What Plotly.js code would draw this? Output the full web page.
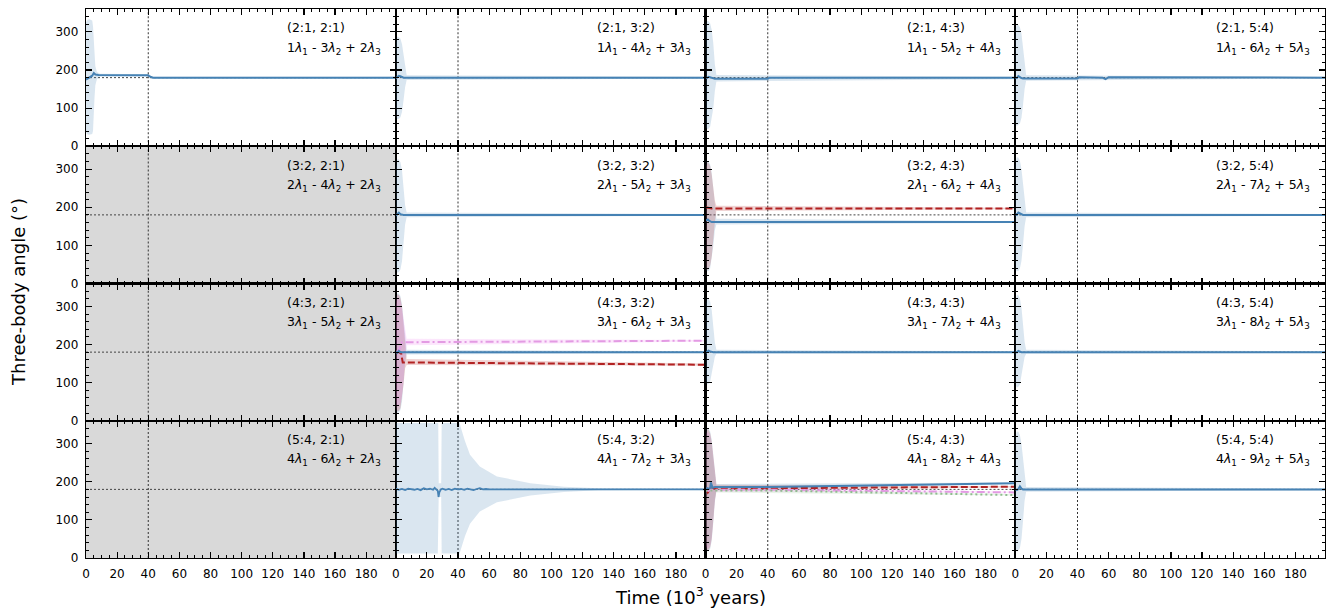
<!DOCTYPE html>
<html><head><meta charset="utf-8">
<script src="https://cdn.plot.ly/plotly-3.0.1.min.js"></script>
<style>html,body{margin:0;padding:0;background:#fff}</style></head>
<body><div id="chart" style="width:1328px;height:611px"></div>
<script>
// ---------- labels ----------
const rowRatios = ['2:1', '3:2', '4:3', '5:4'];
const colRatios = ['2:1', '3:2', '4:3', '5:4'];
const lam1Coef = [1, 2, 3, 4];
const lam2Coef = [[3, 4, 5, 6], [4, 5, 6, 7], [5, 6, 7, 8], [6, 7, 8, 9]];
const lam3Coef = [2, 3, 4, 5];
const grayPanels = [[1, 0], [2, 0], [3, 0]];
const xTickVals = [0, 20, 40, 60, 80, 100, 120, 140, 160, 180];
const yTickVals = [0, 100, 200, 300];
const refAngle = 180;
const refTime = 40;
const xTitle = 'Time (10<sup>3</sup> years)';
const yTitle = 'Three-body angle (°)';

// ---------- common band time grid ----------
const bandT = [0, 0.5, 1, 2, 3, 4, 5, 6, 7, 199];

// ---------- panel (2:1, 2:1) ----------
const p11_t = [0, 1, 2, 3, 4, 5, 6, 8, 40, 41, 43, 199];
const p11_y = [175, 177, 179, 181, 185, 192, 188, 187, 186, 183, 180, 180];
const p11_bt = [0, 0.5, 1, 2, 3, 4, 4.5, 5, 5.5, 6, 7, 9, 40, 41, 43, 199];
const p11_hi = [325, 331, 332, 333, 332, 330, 315, 280, 240, 210, 195, 190, 189, 185, 182, 182];
const p11_lo = [40, 33, 31, 30, 30, 32, 40, 80, 130, 160, 176, 182, 183, 178, 178, 178];
// ---------- panel (2:1, 3:2) ----------
const p12_t = [0, 1, 2, 3, 4, 5, 199];
const p12_y = [178, 181, 185, 184, 181, 180, 180];
const p12_hi = [270, 284, 287, 286, 282, 268, 240, 205, 186, 182];
const p12_lo = [90, 74, 71, 72, 76, 90, 120, 155, 174, 178];
// ---------- panel (2:1, 4:3) ----------
const p13_t = [0, 1, 2, 3, 4, 6, 40, 41, 199];
const p13_y = [180, 179, 182, 181, 178, 177, 177, 180, 180];
const p13_hi = [310, 325, 329, 328, 322, 305, 270, 215, 187, 182];
const p13_lo = [60, 48, 45, 46, 52, 70, 100, 145, 170, 176];
// ---------- panel (2:1, 5:4) ----------
const p14_t = [0, 1, 2, 3, 4, 5, 40, 41, 56, 58, 60, 199];
const p14_y = [180, 179, 184, 181, 179, 178, 178, 181, 180, 176, 181, 180];
const p14_hi = [305, 318, 320, 318, 312, 295, 258, 210, 186, 182];
const p14_lo = [70, 56, 53, 55, 60, 75, 108, 150, 172, 178];
// ---------- panel (3:2, 3:2) ----------
const p22_t = [0, 1, 2, 3, 4, 5, 199];
const p22_y = [178, 183, 186, 182, 180, 180, 180];
const p22_hi = [300, 320, 326, 325, 318, 298, 255, 205, 186, 182];
const p22_lo = [55, 35, 28, 30, 37, 58, 100, 155, 174, 178];
// ---------- panel (3:2, 4:3) ----------
const p23_t = [0, 1.5, 2.5, 4, 199];
const p23_y = [165, 168, 164, 161, 161];
const p23_hi = [300, 318, 321, 320, 312, 290, 248, 200, 170, 163];
const p23_lo = [50, 35, 32, 33, 40, 60, 98, 140, 155, 159];
const p23r_t = [0, 2, 4, 199];
const p23r_y = [200, 198, 197, 197];
const p23r_hi = [300, 315, 318, 316, 308, 285, 248, 218, 204, 199];
const p23r_lo = [60, 40, 35, 38, 47, 70, 108, 160, 190, 195];
// ---------- panel (3:2, 5:4) ----------
const p24_t = [0, 1, 2, 3, 4, 5, 199];
const p24_y = [182, 180, 186, 184, 180, 180, 180];
const p24_hi = [310, 328, 331, 330, 322, 300, 258, 210, 186, 182];
const p24_lo = [50, 35, 32, 33, 40, 60, 102, 150, 174, 178];
// ---------- panel (4:3, 3:2) ----------
const p32_t = [0, 1, 2, 3, 4, 199];
const p32_y = [182, 178, 183, 180, 180, 180];
const p32_hi = [315, 332, 335, 334, 327, 305, 262, 210, 186, 182];
const p32_lo = [40, 24, 20, 22, 28, 50, 98, 150, 174, 178];
const p32r_t = [0, 2, 3.5, 4.5, 199];
const p32r_y = [182, 180, 176, 153, 147];
const p32r_hi = [310, 328, 332, 330, 322, 300, 258, 205, 162, 150];
const p32r_lo = [45, 28, 24, 26, 33, 55, 95, 138, 146, 144];
const p32v_t = [0, 2, 3, 4, 199];
const p32v_y = [180, 184, 195, 206, 210];
const p32v_hi = [300, 320, 325, 322, 314, 295, 265, 232, 215, 212];
const p32v_lo = [60, 40, 35, 38, 45, 65, 105, 165, 198, 208];
// ---------- panel (4:3, 4:3) ----------
const p33_t = [0, 1, 2, 3, 4, 5, 199];
const p33_y = [178, 180, 184, 182, 180, 180, 180];
const p33_hi = [300, 318, 322, 320, 312, 290, 252, 205, 186, 182];
const p33_lo = [120, 100, 95, 97, 103, 120, 145, 168, 176, 178];
// ---------- panel (4:3, 5:4) ----------
const p34_t = [0, 1, 2, 3, 4, 5, 199];
const p34_y = [180, 179, 183, 181, 180, 180, 180];
const p34_hi = [310, 328, 331, 329, 320, 297, 255, 207, 186, 182];
const p34_lo = [110, 92, 87, 89, 96, 115, 143, 167, 176, 178];
// ---------- panel (5:4, 3:2) ----------
const p42_t = [0, 2, 4, 6, 8, 10, 12, 14, 16, 18, 20, 22, 24, 25, 26, 27, 27.5, 28, 29, 30, 32, 34, 36, 38, 40, 42, 44, 46, 48, 50, 52, 54, 56, 58, 60, 199];
const p42_y = [182, 179, 181, 178, 182, 180, 179, 181, 178, 183, 180, 182, 179, 184, 181, 176, 160, 172, 180, 182, 179, 181, 178, 182, 180, 181, 179, 182, 180, 178, 181, 183, 180, 181, 180, 180];
const p42_bt = [0, 27, 27.3, 27.6, 29.2, 29.5, 41, 42, 44.5, 47.7, 54, 65, 86.5, 108, 130, 199];
const p42_hi = [354, 354, 354, 196, 196, 354, 354, 340, 306, 271, 240, 214, 196, 187, 183, 182];
const p42_lo = [12, 12, 12, 160, 160, 12, 12, 25, 58, 90, 122, 146, 164, 173, 178, 179];
// ---------- panel (5:4, 4:3) ----------
const p43_t = [0, 1, 2, 3, 3.5, 4, 4.5, 6, 40, 199];
const p43_y = [180, 183, 181, 184, 198, 190, 184, 186, 186, 196];
const p43_hi = [320, 336, 341, 340, 332, 310, 268, 220, 194, 198];
const p43_lo = [35, 20, 17, 18, 24, 45, 92, 145, 180, 194];
const p43r_t = [0, 1, 1.5, 2.5, 4, 40, 199];
const p43r_y = [184, 178, 172, 178, 183, 183, 187];
const p43r_hi = [315, 332, 338, 336, 327, 305, 262, 215, 192, 189];
const p43r_lo = [40, 24, 20, 22, 28, 50, 98, 150, 178, 185];
const p43v_t = [0, 2, 3, 5, 40, 199];
const p43v_y = [178, 176, 180, 179, 179, 172];
const p43v_hi = [305, 325, 330, 328, 320, 297, 257, 210, 186, 174];
const p43v_lo = [50, 30, 26, 28, 34, 55, 103, 153, 174, 171];
const p43g_t = [0, 2, 4, 6, 40, 199];
const p43g_y = [176, 178, 177, 177, 177, 165];
const p43g_hi = [300, 320, 325, 322, 314, 293, 252, 205, 182, 167];
const p43g_lo = [55, 35, 30, 32, 38, 60, 108, 155, 172, 164];
// ---------- panel (5:4, 5:4) ----------
const p44_t = [0, 1, 2, 3, 4, 5, 199];
const p44_y = [180, 178, 181, 188, 182, 180, 180];
const p44_hi = [315, 329, 332, 331, 322, 300, 258, 210, 186, 182];
const p44_lo = [35, 20, 17, 19, 26, 50, 98, 150, 174, 178];

// ---------- styles ----------
const BLUE = '#4682b4', RED = '#b22222', VIOLET = '#e39be3', GREEN = '#8fbc8f';
const BLUE_F = 'rgba(70,130,180,0.2)', RED_F = 'rgba(178,34,34,0.2)', VIOLET_F = 'rgba(238,130,238,0.2)', GREEN_F = 'rgba(143,188,143,0.2)';

const bands = [
  [0, 0, p11_bt, p11_hi, p11_lo, BLUE_F],
  [0, 1, bandT, p12_hi, p12_lo, BLUE_F],
  [0, 2, bandT, p13_hi, p13_lo, BLUE_F],
  [0, 3, bandT, p14_hi, p14_lo, BLUE_F],
  [1, 1, bandT, p22_hi, p22_lo, BLUE_F],
  [1, 2, bandT, p23_hi, p23_lo, BLUE_F],
  [1, 2, bandT, p23r_hi, p23r_lo, RED_F],
  [1, 3, bandT, p24_hi, p24_lo, BLUE_F],
  [2, 1, bandT, p32_hi, p32_lo, BLUE_F],
  [2, 1, bandT, p32r_hi, p32r_lo, RED_F],
  [2, 1, bandT, p32v_hi, p32v_lo, VIOLET_F],
  [2, 2, bandT, p33_hi, p33_lo, BLUE_F],
  [2, 3, bandT, p34_hi, p34_lo, BLUE_F],
  [3, 1, p42_bt, p42_hi, p42_lo, BLUE_F],
  [3, 2, bandT, p43_hi, p43_lo, BLUE_F],
  [3, 2, bandT, p43r_hi, p43r_lo, RED_F],
  [3, 2, bandT, p43v_hi, p43v_lo, VIOLET_F],
  [3, 2, bandT, p43g_hi, p43g_lo, GREEN_F],
  [3, 3, bandT, p44_hi, p44_lo, BLUE_F]
];
const lines = [
  [1, 2, p23r_t, p23r_y, RED, 2, '7px,3px'],
  [2, 1, p32r_t, p32r_y, RED, 2, '7px,3px'],
  [2, 1, p32v_t, p32v_y, VIOLET, 2, '8px,3px,2px,3px'],
  [3, 2, p43r_t, p43r_y, RED, 2, '7px,3px'],
  [3, 2, p43v_t, p43v_y, VIOLET, 2, '8px,3px,2px,3px'],
  [3, 2, p43g_t, p43g_y, GREEN, 2, '2px,3px'],
  [0, 0, p11_t, p11_y, BLUE, 2, 'solid'],
  [0, 1, p12_t, p12_y, BLUE, 2, 'solid'],
  [0, 2, p13_t, p13_y, BLUE, 2, 'solid'],
  [0, 3, p14_t, p14_y, BLUE, 2, 'solid'],
  [1, 1, p22_t, p22_y, BLUE, 2, 'solid'],
  [1, 2, p23_t, p23_y, BLUE, 2, 'solid'],
  [1, 3, p24_t, p24_y, BLUE, 2, 'solid'],
  [2, 1, p32_t, p32_y, BLUE, 2, 'solid'],
  [2, 2, p33_t, p33_y, BLUE, 2, 'solid'],
  [2, 3, p34_t, p34_y, BLUE, 2, 'solid'],
  [3, 1, p42_t, p42_y, BLUE, 1.8, 'solid'],
  [3, 2, p43_t, p43_y, BLUE, 2, 'solid'],
  [3, 3, p44_t, p44_y, BLUE, 2, 'solid']
];

const idx = (r, c) => r * 4 + c + 1;
const xa = k => 'x' + (k === 1 ? '' : k);
const ya = k => 'y' + (k === 1 ? '' : k);

const traces = [];
bands.forEach(([r, c, t, hi, lo, col]) => {
  const k = idx(r, c);
  traces.push({
    type: 'scatter', mode: 'lines', hoverinfo: 'skip',
    x: t.concat(t.slice().reverse()), y: hi.concat(lo.slice().reverse()),
    fill: 'toself', fillcolor: col, line: {width: 0},
    xaxis: xa(k), yaxis: ya(k)
  });
});
lines.forEach(([r, c, t, y, col, w, dash]) => {
  const k = idx(r, c);
  traces.push({
    type: 'scatter', mode: 'lines', x: t, y: y,
    line: {color: col, width: w, dash: dash},
    xaxis: xa(k), yaxis: ya(k)
  });
});

const FONT = 'DejaVu Sans';
const layout = {
  width: 1328, height: 611,
  margin: {l: 86, r: 3, t: 9, b: 53},
  showlegend: false,
  paper_bgcolor: 'white', plot_bgcolor: 'white',
  font: {family: FONT, size: 12, color: 'black'},
  shapes: [], annotations: []
};

grayPanels.forEach(([r, c]) => {
  const k = idx(r, c);
  layout.shapes.push({type: 'rect', layer: 'below', xref: xa(k) + ' domain', yref: ya(k) + ' domain',
    x0: 0, x1: 1, y0: 0, y1: 1, fillcolor: '#d9d9d9', line: {width: 0}});
});

for (let r = 0; r < 4; r++) {
  for (let c = 0; c < 4; c++) {
    const k = idx(r, c);
    const axCommon = {
      ticks: 'inside', ticklen: 6, tickwidth: 1.2, tickcolor: 'black',
      showline: true, linecolor: 'black', linewidth: 1.2, mirror: 'allticks',
      showgrid: false, zeroline: false,
      tickfont: {family: FONT, size: 12, color: 'black'}
    };
    layout['xaxis' + (k === 1 ? '' : k)] = Object.assign({}, axCommon, {
      domain: [c / 4, (c + 1) / 4], anchor: ya(k), range: [0, 199],
      tickmode: 'array', tickvals: xTickVals, ticktext: xTickVals.map(String),
      showticklabels: r === 3, ticklabelstandoff: 4,
      minor: {dtick: 5, tick0: 0, ticks: 'inside', ticklen: 3, tickwidth: 1, tickcolor: 'black', showgrid: false}
    });
    layout['yaxis' + (k === 1 ? '' : k)] = Object.assign({}, axCommon, {
      domain: [1 - (r + 1) / 4, 1 - r / 4], anchor: xa(k), range: [0, 360],
      tickmode: 'array', tickvals: yTickVals, ticktext: yTickVals.map(String),
      showticklabels: c === 0, ticklabelstandoff: 4,
      minor: {dtick: 20, tick0: 0, ticks: 'inside', ticklen: 3, tickwidth: 1, tickcolor: 'black', showgrid: false}
    });
    layout.shapes.push({type: 'line', layer: 'below', xref: xa(k), yref: ya(k) + ' domain',
      x0: refTime, x1: refTime, y0: 0, y1: 1, line: {color: '#333', width: 1, dash: '2px,2px'}});
    layout.shapes.push({type: 'line', layer: 'below', xref: xa(k) + ' domain', yref: ya(k),
      x0: 0, x1: 1, y0: refAngle, y1: refAngle, line: {color: '#444', width: 1, dash: '2px,2px'}});
    layout.annotations.push({xref: xa(k) + ' domain', yref: ya(k) + ' domain', x: 0.643, y: 0.862,
      xanchor: 'left', yanchor: 'middle', showarrow: false,
      text: '(' + rowRatios[r] + ', ' + colRatios[c] + ')', font: {family: FONT, size: 12.5, color: 'black'}});
    layout.annotations.push({xref: xa(k) + ' domain', yref: ya(k) + ' domain', x: 0.643, y: 0.715,
      xanchor: 'left', yanchor: 'middle', showarrow: false,
      text: lam1Coef[r] + '<i>λ</i><sub>1</sub> - ' + lam2Coef[r][c] + '<i>λ</i><sub>2</sub> + ' + lam3Coef[c] + '<i>λ</i><sub>3</sub>',
      font: {family: FONT, size: 12.5, color: 'black'}});
  }
}

layout.annotations.push({xref: 'paper', yref: 'paper', x: 0.4875, y: -0.07, xanchor: 'center', yanchor: 'middle',
  showarrow: false, text: xTitle, font: {family: FONT, size: 18, color: 'black'}});
layout.annotations.push({xref: 'paper', yref: 'paper', x: -0.0549, y: 0.4845, xanchor: 'center', yanchor: 'middle',
  textangle: -90, showarrow: false, text: yTitle, font: {family: FONT, size: 18, color: 'black'}});

Plotly.newPlot('chart', traces, layout, {displayModeBar: false, staticPlot: true});
</script></body></html>
